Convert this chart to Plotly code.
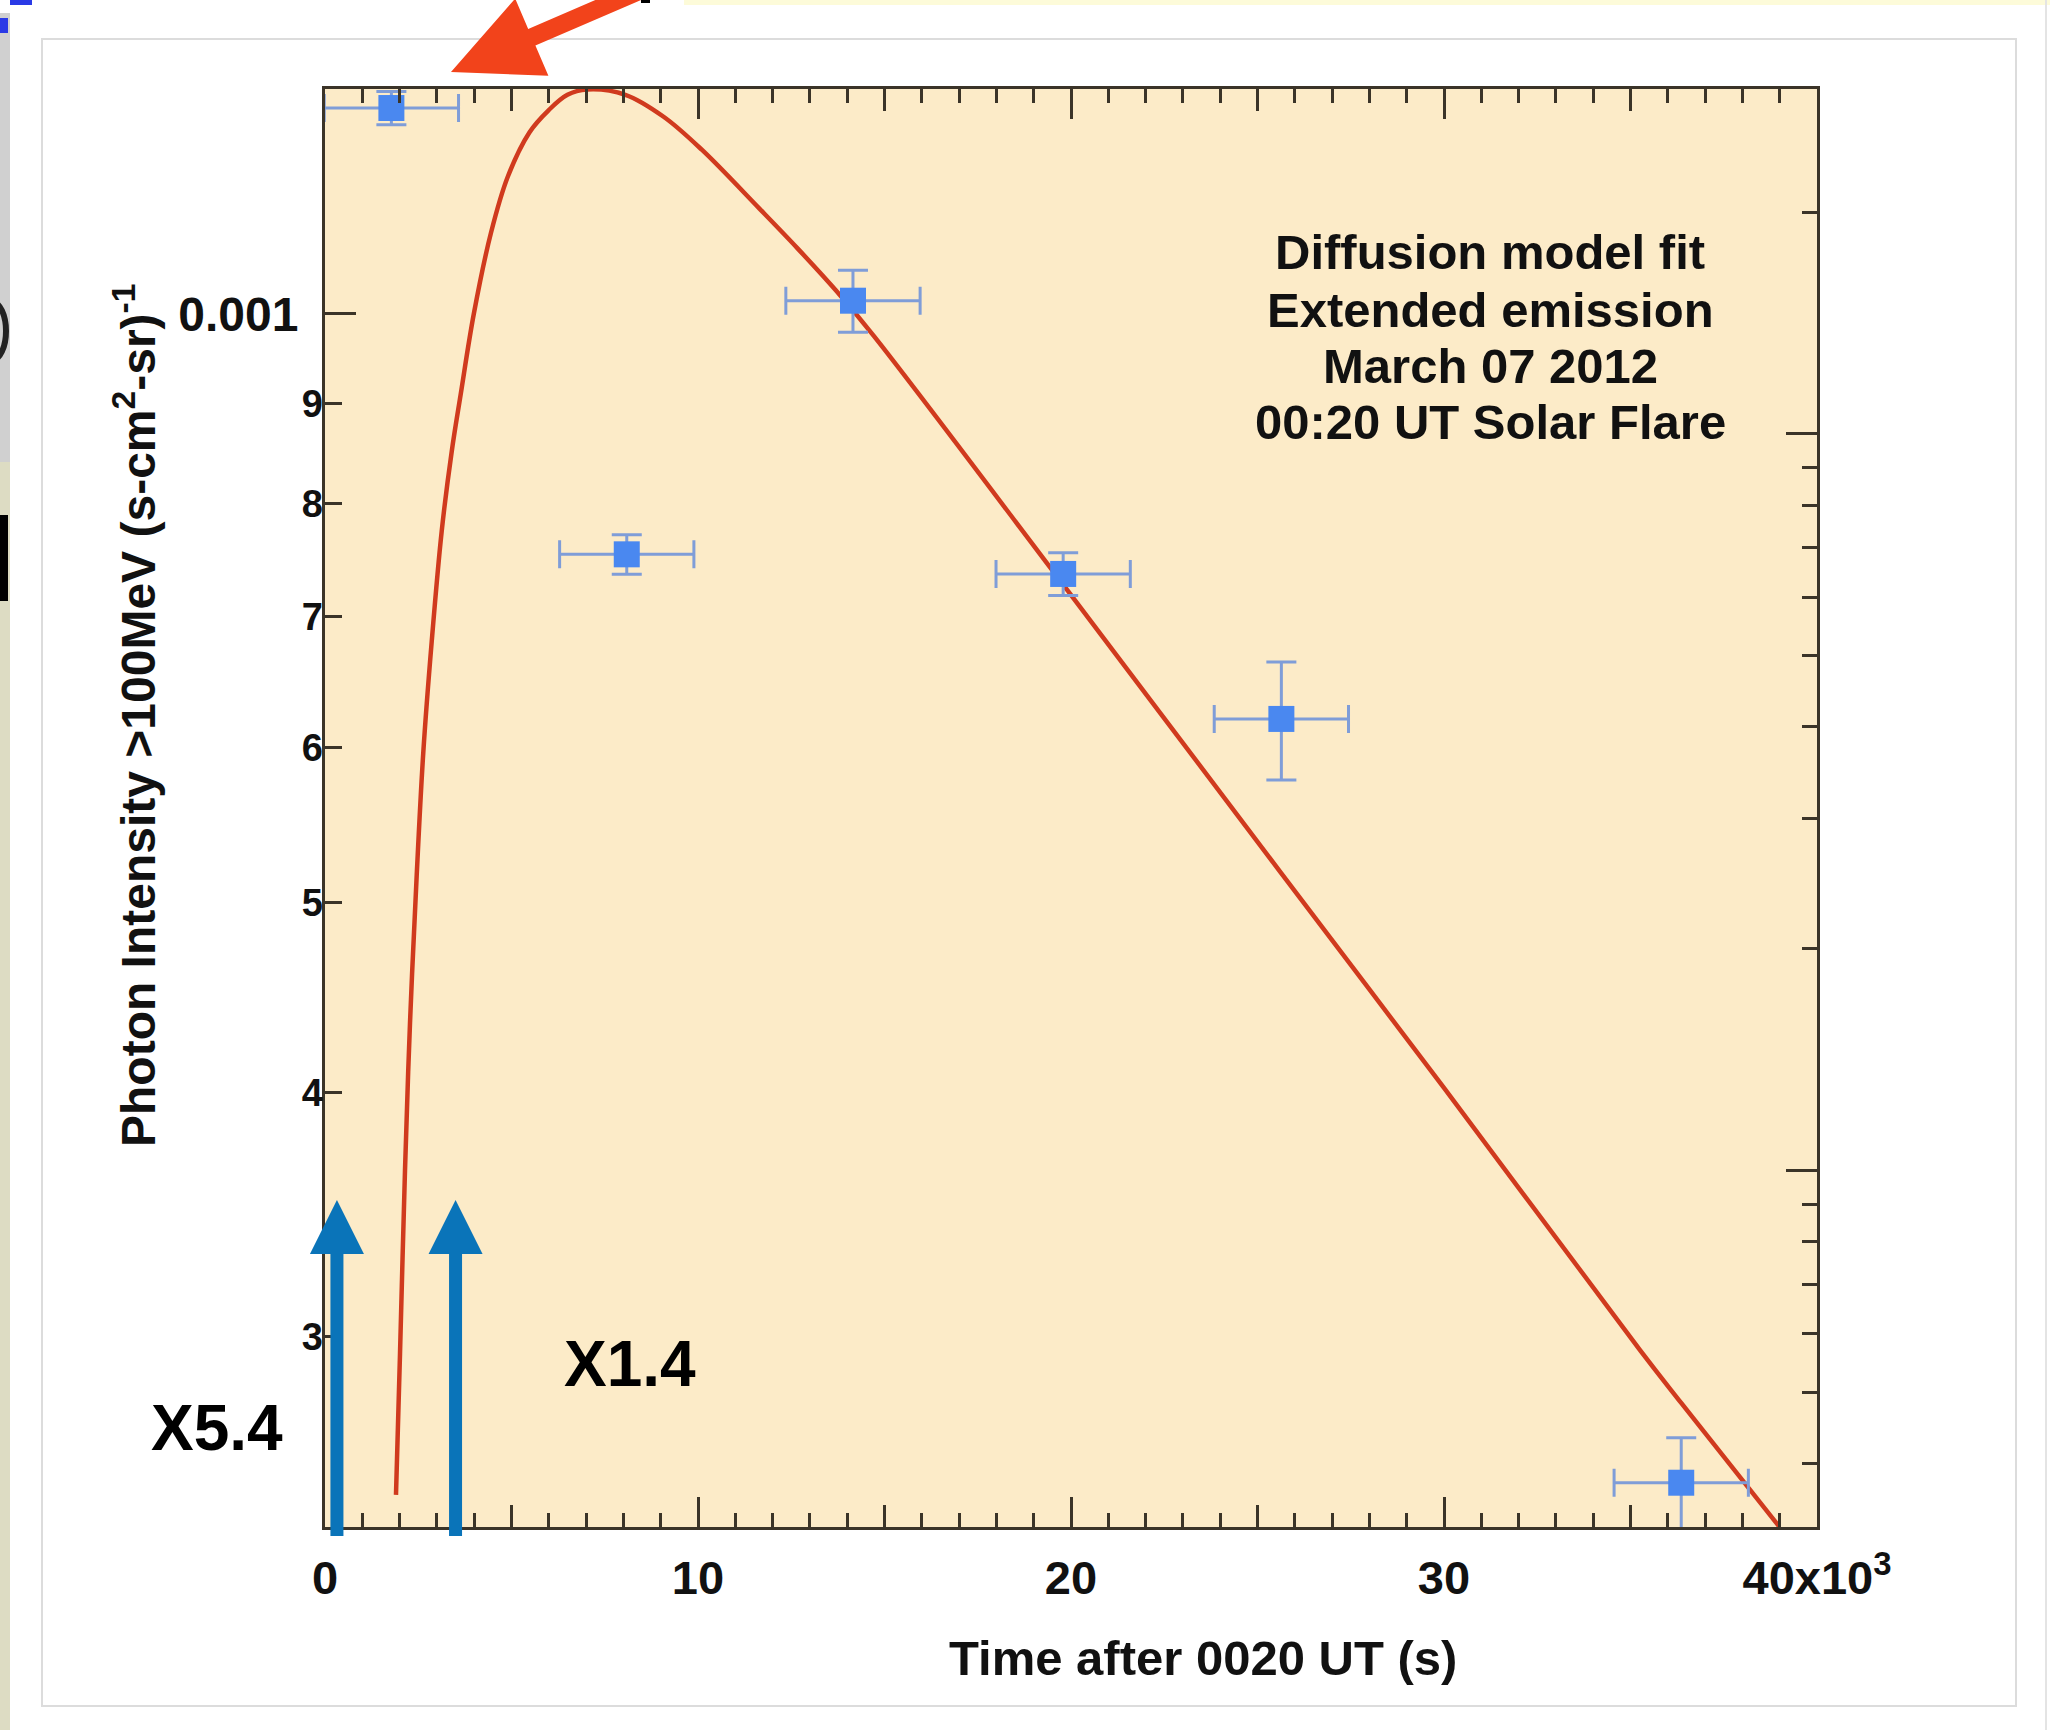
import plotly.graph_objects as go

# ---------------- data ----------------
time_s = [1780, 8090, 14155, 19790, 25640, 36360]
time_err_s = [1800, 1800, 1800, 1800, 1800, 1800]
intensity = [1.274e-3, 7.534e-4, 1.0155e-3, 7.362e-4, 6.207e-4, 2.526e-4]
intensity_err = [2.5e-5, 1.75e-5, 3.7e-5, 1.85e-5, 4.3e-5, 1.37e-5]

fit_time_s = [1903, 2011, 2145, 2279, 2458, 2636, 2861, 3128, 3396, 3640, 3990,
              4450, 4900, 5480, 6000, 6500, 7024, 8051, 9078, 10102, 11641,
              12668, 13694, 14718, 19790, 25640, 30000, 35255, 36364, 38980]
fit_intensity = [2.49e-4, 2.94e-4, 3.65e-4, 4.34e-4, 5.16e-4, 5.97e-4, 6.80e-4,
                 7.74e-4, 8.50e-4, 9.10e-4, 1.00e-3, 1.10e-3, 1.175e-3, 1.238e-3,
                 1.271e-3, 1.294e-3, 1.302e-3, 1.294e-3, 1.261e-3, 1.213e-3,
                 1.132e-3, 1.080e-3, 1.028e-3, 9.74e-4, 7.27e-4, 5.175e-4,
                 4.02e-4, 2.953e-4, 2.774e-4, 2.40e-4]

x_tick_vals = [0, 10000, 20000, 30000, 40000]
x_tick_text = ["0", "10", "20", "30", "40x10<sup>3</sup>"]
x_mid_ticks = [5000, 15000, 25000, 35000]
x_minor_ticks = [1000, 2000, 3000, 4000, 6000, 7000, 8000, 9000,
                 11000, 12000, 13000, 14000, 16000, 17000, 18000, 19000,
                 21000, 22000, 23000, 24000, 26000, 27000, 28000, 29000,
                 31000, 32000, 33000, 34000, 36000, 37000, 38000, 39000]

y_major_ticks = [1e-3]
y_major_text = ["0.001"]
y_minor_ticks = [9e-4, 8e-4, 7e-4, 6e-4, 5e-4, 4e-4, 3e-4]
y_minor_text = ["9", "8", "7", "6", "5", "4", "3"]

right_major_ticks = [1e-3, 1e-4]
right_minor_ticks = [2e-3, 9e-4, 8e-4, 7e-4, 6e-4, 5e-4, 4e-4, 3e-4, 2e-4,
                     9e-5, 8e-5, 7e-5, 6e-5, 5e-5, 4e-5]

flare_times_s = [320, 3500]
flare_labels = ["X5.4", "X1.4"]

info_lines = ["Diffusion model fit", "Extended emission",
              "March 07 2012", "00:20 UT Solar Flare"]

X_RANGE = [0, 40000]
Y_RANGE_LOG = [-3.6202, -2.8851]
Y2_RANGE_LOG = [-4.484, -2.532]

# ---------------- layout geometry (pixels) ----------------
W_FIG, H_FIG = 2050, 1730
L, R, T, B = 325, 1817, 89, 1527
PW, PH = R - L, B - T


def px(x):
    return (x - L) / PW


def py(y):
    return (B - y) / PH


def tx(t):
    return (t - X_RANGE[0]) / (X_RANGE[1] - X_RANGE[0])


AXIS_COL = "#3b3428"
FONT = "Liberation Sans, Arial, Helvetica, sans-serif"
TXT = "#111111"

fig = go.Figure()

fig.add_trace(go.Scatter(
    x=fit_time_s, y=fit_intensity, mode="lines",
    line=dict(color="#d03a1e", width=4.5, shape="spline", smoothing=1.0),
    showlegend=False, hoverinfo="skip"))

fig.add_trace(go.Scatter(
    x=time_s, y=intensity, mode="markers",
    marker=dict(symbol="square", size=26, color="#4a88f0"),
    error_x=dict(type="data", array=time_err_s, color="#7f9dd8",
                 thickness=3, width=14),
    error_y=dict(type="data", array=intensity_err, color="#7f9dd8",
                 thickness=3, width=15),
    showlegend=False))

# empty traces so the overlaying tick-only axes get drawn
fig.add_trace(go.Scatter(x=[None], y=[None], xaxis="x2", yaxis="y",
                         showlegend=False, hoverinfo="skip"))
fig.add_trace(go.Scatter(x=[None], y=[None], xaxis="x", yaxis="y3",
                         showlegend=False, hoverinfo="skip"))
fig.add_trace(go.Scatter(x=[None], y=[None], xaxis="x", yaxis="y2",
                         showlegend=False, hoverinfo="skip"))

tick_common = dict(ticks="inside", tickwidth=3, tickcolor=AXIS_COL,
                   showgrid=False, zeroline=False)

fig.update_layout(
    width=W_FIG, height=H_FIG,
    margin=dict(l=L, r=W_FIG - R, t=T, b=H_FIG - B, autoexpand=False),
    paper_bgcolor="white", plot_bgcolor="#fcebc8",
    font=dict(family=FONT, color=TXT),
    xaxis=dict(range=X_RANGE, tickmode="array", tickvals=x_tick_vals,
               ticktext=x_tick_text, ticklen=30, showline=True, linewidth=3,
               linecolor=AXIS_COL, mirror="ticks",
               tickfont=dict(size=47, weight="bold", color=TXT),
               ticklabelstandoff=8,
               minor=dict(tickmode="array", tickvals=x_minor_ticks,
                          ticks="inside", ticklen=14, tickwidth=3,
                          tickcolor=AXIS_COL, showgrid=False),
               **tick_common),
    xaxis2=dict(overlaying="x", anchor="y", side="bottom", range=X_RANGE,
                tickmode="array", tickvals=x_mid_ticks, ticklen=22,
                showticklabels=False, showline=True, linewidth=3,
                linecolor=AXIS_COL, mirror="ticks", **tick_common),
    yaxis=dict(type="log", range=Y_RANGE_LOG, tickmode="array",
               tickvals=y_major_ticks, ticktext=y_major_text, ticklen=31,
               showline=True, linewidth=3, linecolor=AXIS_COL,
               tickfont=dict(size=48, weight="bold", color=TXT),
               ticklabelstandoff=14, **tick_common),
    yaxis3=dict(type="log", overlaying="y", anchor="x", side="left",
                range=Y_RANGE_LOG, tickmode="array", tickvals=y_minor_ticks,
                ticktext=y_minor_text, ticklen=17, showline=False,
                tickfont=dict(size=38, weight="bold", color=TXT,
                              family=FONT),
                ticklabelstandoff=1, **tick_common),
    yaxis2=dict(type="log", overlaying="y", anchor="x", side="right",
                range=Y2_RANGE_LOG, tickmode="array",
                tickvals=right_major_ticks, ticklen=31, showticklabels=False,
                showline=True, linewidth=3, linecolor=AXIS_COL,
                minor=dict(tickmode="array", tickvals=right_minor_ticks,
                           ticks="inside", ticklen=15, tickwidth=3,
                           tickcolor=AXIS_COL, showgrid=False),
                **tick_common),
)

shapes = []


def prect(x0, y0, x1, y1, color, line=None, layer="below"):
    d = dict(type="rect", xref="paper", yref="paper",
             x0=px(x0), x1=px(x1), y0=py(y0), y1=py(y1), layer=layer)
    if line:
        d["line"] = dict(color=line, width=2)
        d["fillcolor"] = "rgba(0,0,0,0)"
    else:
        d["line"] = dict(width=0)
        d["fillcolor"] = color
    return d


def ppath(points, color, layer="above"):
    p = "M " + " L ".join(f"{px(a):.5f},{py(b):.5f}" for a, b in points) + " Z"
    return dict(type="path", xref="paper", yref="paper", path=p,
                fillcolor=color, line=dict(width=0), layer=layer)


# screenshot frame and edge artifacts
shapes.append(prect(42, 39, 2016, 1706, None, line="#dcdcdc"))
shapes.append(prect(0, 13, 10, 462, "#d0d0d0"))
shapes.append(prect(0, 462, 10, 1730, "#dddcc3"))
shapes.append(prect(0, 515, 8, 601, "#000000"))
shapes.append(prect(684, 0, 2050, 5, "#fdfbd9"))
shapes.append(prect(641, 0, 650, 3, "#000000"))
shapes.append(prect(0, 18, 8, 33, "#2a3ae6"))
shapes.append(prect(10, 0, 32, 5, "#2a3ae6"))
shapes.append(prect(2045, 0, 2047, 1730, "#e4e4e4"))
shapes.append(dict(type="circle", xref="paper", yref="paper",
                   x0=px(-22), x1=px(6), y0=py(360), y1=py(302),
                   line=dict(color="#222222", width=6), layer="below"))

# red arrow at the top
shapes.append(ppath([(451, 72), (515.2, -1.4), (528.2, 28.9), (684.3, -38.3),
                     (691.5, -21.7), (535.4, 45.5), (548.4, 75.8)], "#f2431b"))

# blue flare arrows
for t in flare_times_s:
    xc = tx(t)
    sw, hw = 6.5 / PW, 27 / PW
    shapes.append(dict(type="rect", xref="paper", yref="paper",
                       x0=xc - sw, x1=xc + sw, y0=py(1536), y1=py(1250),
                       fillcolor="#0a74b9", line=dict(width=0), layer="above"))
    shapes.append(dict(type="path", xref="paper", yref="paper",
                       path=f"M {xc - hw:.5f},{py(1254):.5f} L {xc + hw:.5f},{py(1254):.5f} L {xc:.5f},{py(1200):.5f} Z",
                       fillcolor="#0a74b9", line=dict(width=0), layer="above"))

fig.update_layout(shapes=shapes)

annotations = [
    dict(text="Photon Intensity >100MeV (s-cm<sup>2</sup>-sr)<sup>-1</sup>",
         xref="paper", yref="paper", x=px(135), y=py(716), textangle=-90,
         xanchor="center", yanchor="middle", showarrow=False,
         font=dict(size=48, weight="bold", color=TXT, family=FONT)),
    dict(text="Time after 0020 UT (s)", xref="paper", yref="paper",
         x=px(1203), y=py(1658), xanchor="center", yanchor="middle",
         showarrow=False,
         font=dict(size=49, weight="bold", color=TXT, family=FONT)),
]
info_y = [252, 310, 366, 422]
for line_txt, ly in zip(info_lines, info_y):
    annotations.append(dict(text=line_txt, xref="paper", yref="paper",
                            x=px(1490), y=py(ly), xanchor="center",
                            yanchor="middle", showarrow=False,
                            font=dict(size=49, weight="bold", color=TXT,
                                      family=FONT)))
label_pos = [(217, 1428), (630, 1364)]
for lab, (lx, ly) in zip(flare_labels, label_pos):
    annotations.append(dict(text=lab, xref="paper", yref="paper",
                            x=px(lx), y=py(ly), xanchor="center",
                            yanchor="middle", showarrow=False,
                            font=dict(size=64, weight="bold", color="#000000",
                                      family=FONT)))
fig.update_layout(annotations=annotations)

fig.write_html("out.html")
